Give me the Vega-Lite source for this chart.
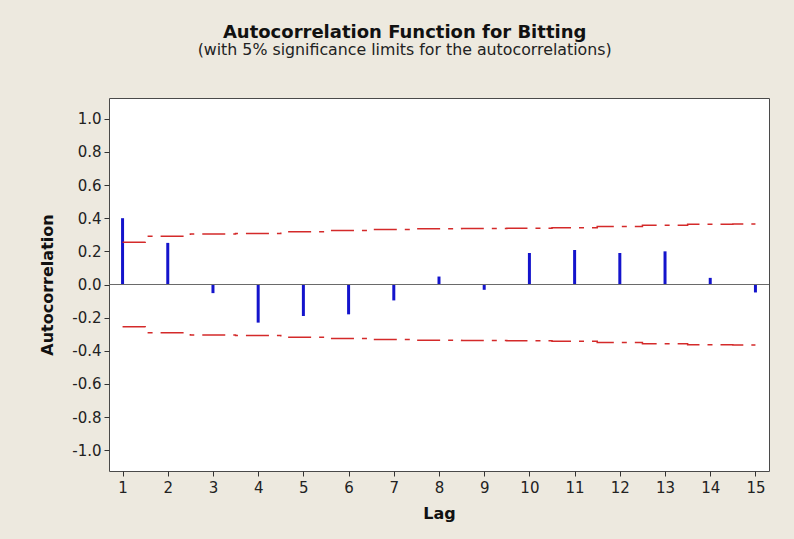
{
  "$schema": "https://vega.github.io/schema/vega-lite/v6.json",
  "width": 660,
  "height": 373,
  "autosize": {"type": "none"},
  "padding": {"left": 109, "top": 98, "right": 25, "bottom": 68},
  "background": "#ede9df",
  "config": {
    "view": {"fill": "white", "stroke": "#4a4a4a", "strokeWidth": 1},
    "font": "DejaVu Sans"
  },
  "title": {
    "text": "Autocorrelation Function for Bitting",
    "subtitle": "(with 5% significance limits for the autocorrelations)",
    "font": "DejaVu Sans",
    "fontSize": 18,
    "fontWeight": "bold",
    "color": "#111111",
    "subtitleFont": "DejaVu Sans",
    "subtitleFontSize": 15.8,
    "subtitleColor": "#222222",
    "subtitlePadding": 1,
    "anchor": "middle",
    "frame": "bounds",
    "offset": 40
  },
  "data": {
    "values": [
      {"lag": 1, "acf": 0.40, "upper": 0.255, "lower": -0.255},
      {"lag": 2, "acf": 0.251, "upper": 0.291, "lower": -0.291},
      {"lag": 3, "acf": -0.052, "upper": 0.305, "lower": -0.305},
      {"lag": 4, "acf": -0.23, "upper": 0.307, "lower": -0.307},
      {"lag": 5, "acf": -0.19, "upper": 0.318, "lower": -0.318},
      {"lag": 6, "acf": -0.18, "upper": 0.325, "lower": -0.325},
      {"lag": 7, "acf": -0.096, "upper": 0.332, "lower": -0.332},
      {"lag": 8, "acf": 0.048, "upper": 0.336, "lower": -0.336},
      {"lag": 9, "acf": -0.032, "upper": 0.338, "lower": -0.338},
      {"lag": 10, "acf": 0.19, "upper": 0.340, "lower": -0.340},
      {"lag": 11, "acf": 0.208, "upper": 0.343, "lower": -0.343},
      {"lag": 12, "acf": 0.19, "upper": 0.350, "lower": -0.350},
      {"lag": 13, "acf": 0.20, "upper": 0.357, "lower": -0.357},
      {"lag": 14, "acf": 0.04, "upper": 0.364, "lower": -0.364},
      {"lag": 15, "acf": -0.048, "upper": 0.365, "lower": -0.365}
    ]
  },
  "layer": [
    {
      "mark": {"type": "rule", "color": "#1414cc", "strokeWidth": 3},
      "encoding": {
        "x": {
          "field": "lag",
          "type": "quantitative",
          "scale": {"domain": [0.7, 15.3], "nice": false, "zero": false},
          "axis": {
            "title": "Lag",
            "values": [1, 2, 3, 4, 5, 6, 7, 8, 9, 10, 11, 12, 13, 14, 15],
            "tickCount": 30,
            "format": "d",
            "grid": false,
            "domain": false,
            "labelOverlap": false,
            "labelFlush": false,
            "tickColor": "#333333",
            "tickSize": 5,
            "labelFont": "DejaVu Sans",
            "labelFontSize": 15,
            "labelColor": "#222222",
            "labelPadding": 4,
            "titleFont": "DejaVu Sans",
            "titleFontSize": 16,
            "titleFontWeight": "bold",
            "titleColor": "#111111",
            "titlePadding": 10
          }
        },
        "y": {
          "field": "acf",
          "type": "quantitative",
          "scale": {"domain": [-1.125, 1.125], "nice": false, "zero": false},
          "axis": {
            "title": "Autocorrelation",
            "values": [-1.0, -0.8, -0.6, -0.4, -0.2, 0.0, 0.2, 0.4, 0.6, 0.8, 1.0],
            "tickCount": 30,
            "labelExpr": "replace(format(datum.value, '.1f'), '\u2212', '-')",
            "grid": false,
            "domain": false,
            "labelOverlap": false,
            "labelFlush": false,
            "tickColor": "#333333",
            "tickSize": 5,
            "labelFont": "DejaVu Sans",
            "labelFontSize": 15,
            "labelColor": "#222222",
            "labelPadding": 3,
            "titleFont": "DejaVu Sans",
            "titleFontSize": 16,
            "titleFontWeight": "bold",
            "titleColor": "#111111",
            "titlePadding": 16
          }
        },
        "y2": {"datum": 0}
      }
    },
    {
      "mark": {"type": "rule", "color": "#6a6a6a", "strokeWidth": 1},
      "encoding": {"y": {"datum": 0, "type": "quantitative"}}
    },
    {
      "mark": {"type": "line", "color": "#d42a2a", "strokeWidth": 1.5, "strokeDash": [23, 8, 5, 8], "interpolate": "step"},
      "encoding": {
        "x": {"field": "lag", "type": "quantitative"},
        "y": {"field": "upper", "type": "quantitative"}
      }
    },
    {
      "mark": {"type": "line", "color": "#d42a2a", "strokeWidth": 1.5, "strokeDash": [23, 8, 5, 8], "interpolate": "step"},
      "encoding": {
        "x": {"field": "lag", "type": "quantitative"},
        "y": {"field": "lower", "type": "quantitative"}
      }
    }
  ]
}
